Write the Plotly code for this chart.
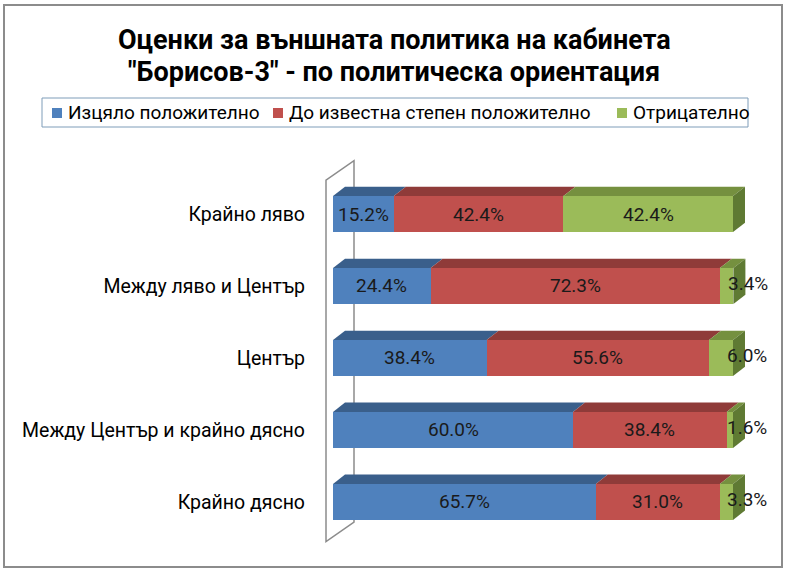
import plotly.graph_objects as go

# categories (top to bottom) and shares in %
categories = ["Крайно ляво", "Между ляво и Център", "Център",
              "Между Център и крайно дясно", "Крайно дясно"]
fully_positive = [15.2, 24.4, 38.4, 60.0, 65.7]
partly_positive = [42.4, 72.3, 55.6, 38.4, 31.0]
negative = [42.4, 3.4, 6.0, 1.6, 3.3]

series_names = ["Изцяло положително", "До известна степен положително", "Отрицателно"]
front_colors = ["#4F81BD", "#C0504D", "#9BBB59"]
top_colors = ["#3A5F8B", "#8F3B39", "#75903F"]
side_colors = ["#2F4D73", "#7A3230", "#5F7A33"]

FONT = "Roboto"
W, H = 787, 572
L, R, T, B = 310, 7, 150, 12
BAR_W = 0.5         # bar thickness in category units
DX, DY = 3.0, 0.13  # 3d depth offset (x in %, y in category units)


def px(x):  # figure pixel -> paper x
    return (x - L) / (W - L - R)


def py(y):  # figure pixel -> paper y
    return (H - B - y) / (H - T - B)


ypos = list(range(len(categories) - 1, -1, -1))
series = [fully_positive, partly_positive, negative]

fig = go.Figure()
shapes = []
annotations = []

# back wall of the 3d chart
wl, wr = -1.75, 5.25
wall_top, wall_bot = ypos[0] + 0.47, ypos[-1] - 0.55
rise = 0.27
shapes.append(dict(
    type="path", layer="below",
    path=f"M {wl},{wall_top} L {wl},{wall_bot} L {wr},{wall_bot + rise} "
         f"L {wr},{wall_top + rise} Z",
    line=dict(color="#8C8C8C", width=1.5), fillcolor="rgba(0,0,0,0)"))

for s, vals in enumerate(series):
    fig.add_trace(go.Bar(
        y=ypos, x=vals, orientation="h", name=series_names[s],
        width=BAR_W, marker=dict(color=front_colors[s], line=dict(width=0)),
        hoverinfo="skip"))

lab_font = dict(family=FONT, size=19, color="#1a1a1a")
for i, y in enumerate(ypos):
    start = 0.0
    top = y + BAR_W / 2
    bot = y - BAR_W / 2
    for s, vals in enumerate(series):
        v = vals[i]
        end = start + v
        # top face
        shapes.append(dict(
            type="path", layer="below",
            path=f"M {start},{top} L {end},{top} L {end + DX},{top + DY} "
                 f"L {start + DX},{top + DY} Z",
            line=dict(width=0), fillcolor=top_colors[s]))
        # value label: narrow segments get it just right of the bar
        if v >= 8:
            annotations.append(dict(x=(start + end) / 2, y=y, text=f"{v:.1f}%",
                                    showarrow=False, xanchor="center", font=lab_font))
        else:
            annotations.append(dict(x=end + 3.6, y=y, yshift=2, text=f"{v:.1f}%",
                                    showarrow=False, xanchor="center", font=lab_font))
        start = end
    # right side face of the last segment
    shapes.append(dict(
        type="path", layer="below",
        path=f"M {start},{bot} L {start},{top} L {start + DX},{top + DY} "
             f"L {start + DX},{bot + DY} Z",
        line=dict(width=0), fillcolor=side_colors[-1]))

# outer chart frame
shapes.append(dict(type="rect", xref="paper", yref="paper",
                   x0=px(4), x1=px(782), y0=py(567), y1=py(5),
                   line=dict(color="#8C8C8C", width=2)))

# title (two lines)
for txt, yy in [("Оценки за външната политика на кабинета", 40),
                ("\"Борисов-3\" - по политическа ориентация", 72)]:
    annotations.append(dict(x=px(394), y=py(yy), xref="paper", yref="paper",
                            text=f"<b>{txt}</b>", showarrow=False,
                            xanchor="center", yanchor="middle",
                            font=dict(family=FONT, size=27, color="black")))

# legend box drawn by hand to mimic the compact spreadsheet legend
shapes.append(dict(type="rect", xref="paper", yref="paper",
                   x0=px(42), x1=px(748), y0=py(127), y1=py(98),
                   line=dict(color="#7F9DB9", width=1), fillcolor="white"))
for name, col, mx in zip(series_names, front_colors, [52, 273, 617]):
    shapes.append(dict(type="rect", xref="paper", yref="paper",
                       x0=px(mx), x1=px(mx + 10), y0=py(118), y1=py(108),
                       line=dict(width=0), fillcolor=col))
    annotations.append(dict(x=px(mx + 14), y=py(113), xref="paper", yref="paper",
                            text=name, showarrow=False, xanchor="left",
                            yanchor="middle",
                            font=dict(family=FONT, size=19, color="black")))

fig.update_layout(
    width=W, height=H,
    margin=dict(l=L, r=R, t=T, b=B),
    barmode="stack", bargap=0,
    plot_bgcolor="white", paper_bgcolor="white",
    font=dict(family=FONT, size=19, color="black"),
    showlegend=False,
    xaxis=dict(range=[-5.75, 111.75], visible=False, fixedrange=True),
    yaxis=dict(range=[ypos[-1] - 0.806, ypos[0] + 0.889], tickvals=ypos,
               ticktext=categories, showgrid=False, zeroline=False,
               showline=False, ticks="", automargin=False,
               ticklabelstandoff=4, fixedrange=True,
               tickfont=dict(family=FONT, size=19.5, color="black")),
    shapes=shapes, annotations=annotations,
)

# drop the default page margin so the chart sits at the window origin
fig.write_html("out.html", config={"displayModeBar": False},
               post_script="document.body.style.margin='0';")
